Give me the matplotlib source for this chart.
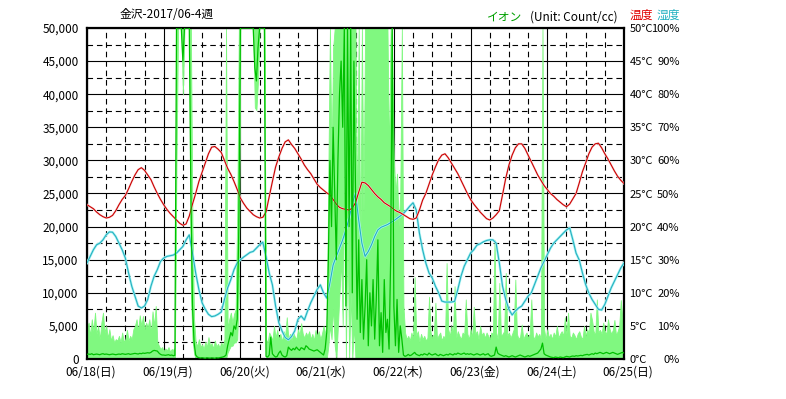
import numpy as np
import matplotlib
matplotlib.use('Agg')
import matplotlib.pyplot as plt
from matplotlib.ticker import MultipleLocator, FixedLocator
from matplotlib.transforms import ScaledTranslation

plt.rcParams['font.family'] = ['Noto Sans CJK JP', 'DejaVu Sans']

TITLE = "金沢-2017/06-4週"
DAY_LABELS = ["06/18(日)", "06/19(月)", "06/20(火)", "06/21(水)",
              "06/22(木)", "06/23(金)", "06/24(土)", "06/25(日)"]

# hourly temperature (deg C), 06/18 00:00 .. 06/25 00:00
TEMP = [
    23.3, 23.0, 22.7, 22.2, 21.8, 21.5, 21.3, 21.4, 21.7, 22.4, 23.3, 24.1,
    24.7, 25.7, 26.8, 27.8, 28.6, 28.9, 28.5, 27.8, 27.1, 26.0, 25.0, 24.1,
    23.3, 22.6, 22.0, 21.5, 21.0, 20.5, 20.2, 20.4, 21.6, 23.4, 25.0, 26.8,
    28.2, 29.6, 31.0, 32.0, 32.1, 31.7, 31.2, 30.0, 28.8, 27.9, 26.8, 25.6,
    24.3, 23.5, 22.8, 22.3, 21.8, 21.5, 21.3, 21.4, 22.2, 24.5, 26.8, 29.0,
    30.5, 31.8, 32.8, 33.1, 32.4, 31.8, 31.0, 30.2, 29.3, 28.6, 28.0, 27.2,
    26.4, 25.9, 25.5, 25.1, 24.8, 24.1, 23.4, 22.9, 22.7, 22.6, 22.5, 22.8,
    23.6, 25.2, 26.7, 26.6, 26.2, 25.6, 25.0, 24.5, 24.1, 23.6, 23.3, 23.0,
    22.6, 22.3, 22.1, 21.8, 21.5, 21.2, 21.1, 21.3, 22.5, 24.0, 25.0, 26.4,
    27.8, 29.0, 30.1, 30.8, 31.0, 30.4, 29.6, 28.8, 28.0, 27.0, 26.0, 25.0,
    24.1, 23.4, 22.8, 22.2, 21.7, 21.2, 21.0, 21.3, 21.8, 22.4, 24.8, 27.3,
    29.3, 30.8, 31.9, 32.5, 32.5, 31.8, 30.8, 29.8, 28.8, 27.8, 27.0, 26.2,
    25.6, 25.0, 24.6, 24.1, 23.7, 23.3, 23.0, 23.4, 24.2, 25.0, 26.6, 28.3,
    29.6, 31.0, 32.0, 32.5, 32.6, 31.9, 31.0, 30.2, 29.3, 28.4, 27.6, 27.0,
    26.5,
]

# hourly relative humidity (%)
HUM = [
    29, 31, 33, 34.5, 35, 36, 37.5, 38.4, 38.3, 37, 35, 33,
    30.5, 26, 22, 19, 16, 15.4, 16, 18, 22, 25, 27, 29.5,
    30.5, 31, 31.2, 31.4, 32, 33, 34, 36, 37.5, 32, 26, 21,
    17, 15, 13.5, 12.8, 13, 13.5, 14.2, 18, 21.5, 24, 27, 29,
    30, 30.8, 31.5, 32.2, 32.5, 33.5, 34.5, 35.3, 31, 26, 22.4, 16,
    11, 8.5, 6.5, 5.8, 6.8, 8.5, 12, 13, 11.8, 14.5, 17, 19,
    21, 22.4, 20, 18.4, 23, 28.4, 31, 33.5, 36, 39, 42.5, 47,
    50, 42, 35, 31, 32.5, 34.5, 37, 39, 39.8, 40.2, 40.6, 41.2,
    41.8, 42.5, 43.2, 44, 45, 46.2, 47.2, 45, 38, 33, 29, 26,
    24.5, 22, 20, 17.5, 17.2, 17.2, 17.2, 17.4, 21, 25, 28, 30,
    32, 33, 34.4, 34.8, 35.4, 35.8, 36, 36, 35, 29, 22, 18,
    15, 13.3, 14.5, 15.4, 16, 17.5, 19, 20, 22.5, 25, 27.5, 29.5,
    31.5, 33.5, 35, 36, 37, 38, 39, 39.6, 36, 32, 29.9, 26,
    22.5, 19.9, 18, 16.5, 15, 14.8, 16.5, 19, 21.5, 23.5, 25.5, 27.5,
    29,
]

# ion count (count/cc) every 30 minutes: max, mean, min
ION_MAX = [
    4700, 5500, 3500, 6000, 4200, 7000, 3800, 5000, 3000, 5500, 7000, 4000,
    5000, 3200, 4500, 2800, 3600, 2500, 3000, 2800, 3500, 2500, 4000, 2600,
    3000, 4400, 2800, 3500, 3000, 4500, 5000, 6000, 4200, 6600, 5000, 6500,
    4500, 5500, 4800, 6000, 4000, 7200, 5000, 8000, 2600, 2000, 1500, 1800,
    1200, 1600, 1300, 1800, 1100, 1500, 1400, 1700, 50000, 50000, 50000, 50000,
    50000, 50000, 50000, 50000, 50000, 50000, 20000, 6000, 2500, 2000, 3000, 1800,
    2200, 1500, 2600, 1800, 3300, 2000, 2400, 1600, 2800, 1900, 2300, 1700,
    2500, 2000, 3000, 50000, 4500, 6000, 7000, 5500, 6800, 7500, 22000, 50000,
    50000, 50000, 50000, 50000, 50000, 50000, 50000, 50000, 50000, 50000, 50000, 50000,
    50000, 50000, 50000, 50000, 3000, 2500, 4000, 3500, 2800, 5000, 3200, 4400,
    3000, 3800, 2600, 4200, 3500, 6300, 3000, 3800, 2800, 4000, 3400, 3000,
    4500, 3600, 5400, 3800, 3200, 4000, 3500, 4200, 3000, 3800, 2800, 4400,
    3500, 4200, 3000, 3800, 5000, 4000, 3600, 28000, 50000, 30000, 47000, 50000,
    50000, 50000, 50000, 50000, 50000, 50000, 50000, 50000, 50000, 50000, 50000, 50000,
    50000, 20000, 50000, 15000, 50000, 22000, 50000, 50000, 50000, 50000, 50000, 50000,
    50000, 50000, 50000, 50000, 50000, 50000, 50000, 50000, 50000, 30000, 50000, 45000,
    30000, 25000, 28000, 20000, 25000, 50000, 8000, 4000, 3000, 3500, 2800, 4000,
    3000, 12400, 3500, 4200, 2600, 3800, 3000, 3500, 2800, 3200, 9400, 4000,
    3200, 3800, 8500, 3000, 3600, 4000, 2800, 3500, 3000, 14500, 4500, 3500,
    5000, 3800, 11000, 3200, 4200, 3500, 3000, 4000, 3600, 9000, 3800, 3000,
    4500, 3200, 7900, 3800, 4200, 3000, 5000, 3600, 4000, 3200, 4000, 3500,
    3000, 4000, 3800, 18000, 4000, 3000, 11500, 3400, 3800, 4200, 13000, 3500,
    4000, 3200, 3800, 4500, 12000, 3800, 3000, 3400, 5200, 3000, 3600, 4000,
    3200, 3800, 9000, 3500, 3000, 4000, 3400, 3800, 3000, 50000, 4500, 3000,
    4500, 3200, 3800, 3000, 4000, 3400, 5000, 3200, 3800, 4200, 3500, 6300,
    3800, 7000, 3500, 3200, 4000, 3600, 3000, 3800, 4200, 3400, 3000, 5000,
    3500, 4500, 3800, 7000, 5900, 4200, 3600, 9000, 4000, 4400, 3800, 5500,
    4200, 3800, 6000, 4500, 3800, 4400, 5900, 3600, 4200, 5000, 8900, 6000,
    4500,
]

ION_MEAN = [
    700, 750, 700, 800, 650, 700, 750, 700, 650, 750, 800, 700,
    750, 700, 650, 700, 750, 700, 650, 700, 750, 700, 800, 750,
    700, 750, 800, 700, 750, 800, 850, 800, 750, 850, 800, 900,
    850, 900, 950, 900, 1000, 1200, 1300, 1250, 1200, 900, 700, 600,
    600, 550, 600, 650, 550, 600, 500, 550, 50000, 50000, 50000, 50000,
    45000, 50000, 50000, 50000, 50000, 25000, 8000, 2500, 600, 300, 200, 150,
    200, 150, 100, 200, 150, 120, 180, 150, 100, 200, 150, 200,
    250, 300, 400, 600, 2000, 3000, 4000, 3500, 5000, 4500, 6000, 20000,
    50000, 50000, 50000, 50000, 50000, 50000, 50000, 50000, 50000, 44000, 42000, 47000,
    50000, 50000, 50000, 50000, 400, 300, 600, 3300, 800, 500, 300, 400,
    900, 1200, 600, 400, 300, 500, 1800, 1500, 1300, 1600, 1400, 1800,
    1500, 1300, 1700, 1600, 1400, 2000, 1800, 1500, 1400, 1300, 1200, 1300,
    1400, 1200, 1000, 800, 600, 1500, 4000, 15000, 30000, 20000, 35000, 25000,
    15000, 30000, 40000, 45000, 35000, 50000, 8000, 50000, 20000, 50000, 10000, 45000,
    25000, 6000, 18000, 4000, 12000, 3000, 8000, 15000, 2000, 10000, 5000, 12000,
    3000, 9000, 18000, 2000, 7000, 1000, 12000, 4000, 6000, 1500, 15000, 50000,
    8000, 2000, 9000, 1000, 5000, 3000, 600, 400, 500, 700, 500, 600,
    800, 1000, 700, 600, 500, 700, 600, 800, 700, 600, 900, 700,
    600, 700, 800, 600, 500, 700, 600, 500, 600, 700, 600, 800,
    700, 600, 800, 700, 900, 800, 700, 800, 900, 700, 800, 700,
    800, 700, 600, 700, 800, 700, 600, 700, 800, 600, 700, 800,
    500, 400, 500, 600, 1800, 900, 700, 600, 500, 400, 500, 400,
    300, 400, 500, 400, 300, 400, 500, 600, 500, 400, 300, 400,
    500, 400, 500, 600, 700, 800, 900, 1200, 1500, 2400, 800, 600,
    500, 400, 300, 250, 200, 300, 250, 200, 300, 250, 200, 300,
    400, 350, 300, 400, 450, 400, 500, 450, 500, 550, 500, 600,
    650, 700, 600, 700, 800, 700, 900, 800, 900, 1000, 900, 800,
    900, 1000, 900, 800, 900, 1000, 900, 800, 700, 800, 900, 1000,
    900,
]

ION_MIN = [
    0, 0, 0, 0, 0, 0, 0, 0, 0, 0, 0, 0,
    0, 0, 0, 0, 0, 0, 0, 0, 0, 0, 0, 0,
    0, 0, 0, 0, 0, 0, 0, 0, 0, 0, 0, 0,
    0, 0, 0, 0, 0, 0, 0, 0, 0, 0, 0, 0,
    0, 0, 0, 0, 0, 0, 0, 0, 30000, 50000, 50000, 50000,
    40000, 50000, 50000, 50000, 50000, 10000, 3000, 800, 0, 0, 0, 0,
    0, 0, 0, 0, 0, 0, 0, 0, 0, 0, 0, 0,
    0, 0, 0, 0, 1000, 1500, 2000, 2000, 2500, 2500, 3000, 10000,
    50000, 50000, 50000, 50000, 50000, 50000, 50000, 50000, 50000, 38000, 37600, 42000,
    50000, 50000, 50000, 50000, 0, 0, 0, 0, 0, 0, 0, 0,
    0, 0, 0, 0, 0, 0, 0, 0, 0, 0, 0, 0,
    0, 0, 0, 0, 0, 0, 0, 0, 0, 0, 0, 0,
    0, 0, 0, 0, 0, 0, 0, 2000, 5000, 3000, 8000, 2000,
    0, 5000, 10000, 15000, 5000, 30000, 0, 20000, 0, 10000, 0, 5000,
    0, 0, 0, 0, 0, 0, 0, 0, 0, 0, 0, 0,
    0, 0, 0, 0, 0, 0, 0, 0, 0, 0, 0, 0,
    0, 0, 0, 0, 0, 0, 0, 0, 0, 0, 0, 0,
    0, 0, 0, 0, 0, 0, 0, 0, 0, 0, 0, 0,
    0, 0, 0, 0, 0, 0, 0, 0, 0, 0, 0, 0,
    0, 0, 0, 0, 0, 0, 0, 0, 0, 0, 0, 0,
    0, 0, 0, 0, 0, 0, 0, 0, 0, 0, 0, 0,
    0, 0, 0, 0, 0, 0, 0, 0, 0, 0, 0, 0,
    0, 0, 0, 0, 0, 0, 0, 0, 0, 0, 0, 0,
    0, 0, 0, 0, 0, 0, 0, 0, 0, 0, 0, 0,
    0, 0, 0, 0, 0, 0, 0, 0, 0, 0, 0, 0,
    0, 0, 0, 0, 0, 0, 0, 0, 0, 0, 0, 0,
    0, 0, 0, 0, 0, 0, 0, 0, 0, 0, 0, 0,
    0, 0, 0, 0, 0, 0, 0, 0, 0, 0, 0, 0,
    0,
]

# ---------------------------------------------------------------
W, H = 786, 399
fig = plt.figure(figsize=(W / 100, H / 100), dpi=100)
L, R, T, B = 87, 624, 28, 359
rect = [L / W, 1 - B / H, (R - L) / W, (B - T) / H]

FS = 8.5
FS_R = 8
LIGHT_GREEN = '#80f880'
DARK_GREEN = '#00c000'
RED = '#cc0000'
CYAN = '#28b0c0'

ax = fig.add_axes(rect)
ax_h = ax.twinx()
ax_t = ax.twinx()
ax_m = ax.twinx()

t_h = np.arange(len(TEMP))
t_i = np.arange(len(ION_MAX)) * 0.5

for a in (ax, ax_h, ax_t, ax_m):
    a.set_xlim(0, 168)
    a.patch.set_visible(False)
ax.patch.set_visible(True)
ax.set_ylim(0, 50000)
ax_m.set_ylim(0, 50000)
ax_t.set_ylim(0, 50)
ax_h.set_ylim(0, 100)

# grid
ax.set_axisbelow(True)
ax.xaxis.set_major_locator(FixedLocator(np.arange(0, 169, 24)))
ax.xaxis.set_minor_locator(MultipleLocator(6))
ax.yaxis.set_major_locator(MultipleLocator(5000))
ax.yaxis.set_minor_locator(MultipleLocator(2500))
ax.grid(which='major', color='black', lw=0.8, ls='-')
ax.grid(which='minor', color='black', lw=0.8, ls=(0, (5, 3.5)))

# ion band (min..max)
ax.fill_between(t_i, ION_MIN, ION_MAX, color=LIGHT_GREEN, lw=0.6,
                edgecolor=LIGHT_GREEN, zorder=2)

# humidity & temperature
ax_h.plot(t_h, HUM, color='#a8f4f4', lw=1.8)
ax_h.plot(t_h, HUM, color=CYAN, lw=0.8)
ax_t.plot(t_h, TEMP, color='#f6d8d8', lw=1.5)
ax_t.plot(t_h, TEMP, color=RED, lw=0.8)

# ion mean
ax_m.plot(t_i, ION_MEAN, color=DARK_GREEN, lw=0.9)

# x labels: drawn as texts slightly right of each day line
ax.set_xticklabels([])
lab_tr = ax.get_xaxis_transform() + ScaledTranslation(4 / 100, -13 / 100, fig.dpi_scale_trans)
for i, lab in enumerate(DAY_LABELS):
    ax.text(i * 24, 0, lab, transform=lab_tr, ha='center', va='center',
            fontsize=FS, clip_on=False)

ax.set_yticks(np.arange(0, 50001, 5000))
ax.set_yticklabels([f"{v:,}" for v in range(0, 50001, 5000)], fontsize=FS)
ax.tick_params(which='both', length=0)
ax.tick_params(axis='y', pad=6)

ax_t.set_yticks(np.arange(0, 51, 5))
ax_t.set_yticklabels([f"{v}°C" for v in range(0, 51, 5)], fontsize=FS_R)
ax_t.tick_params(length=0, pad=4)

ax_h.set_yticks(np.arange(0, 101, 10))
ax_h.set_yticklabels([f"{v}%" for v in range(0, 101, 10)], fontsize=FS_R)
ax_h.tick_params(length=0, pad=40)
for lab in ax_h.get_yticklabels():
    lab.set_horizontalalignment('right')

ax_m.set_yticks([])
for a in (ax_h, ax_t, ax_m):
    a.tick_params(axis='x', which='both', length=0, labelbottom=False)
    for s in a.spines.values():
        s.set_visible(False)
for s in ax.spines.values():
    s.set_linewidth(1.6)
    s.set_color('black')

# header texts
def fx(px):
    return px / W

def fy(py):
    return 1 - py / H

fig.text(fx(167), fy(15), TITLE, ha='center', va='center', fontsize=FS)
fig.text(fx(487), fy(17), "イオン", ha='left', va='center', fontsize=FS, color='#00a000')
fig.text(fx(530), fy(17), "(Unit: Count/cc)", ha='left', va='center', fontsize=FS)
fig.text(fx(630), fy(15), "温度", ha='left', va='center', fontsize=FS, color='#e00000')
fig.text(fx(657), fy(15), "湿度", ha='left', va='center', fontsize=FS, color='#20b0c0')

fig.savefig('out.png', dpi=100)
